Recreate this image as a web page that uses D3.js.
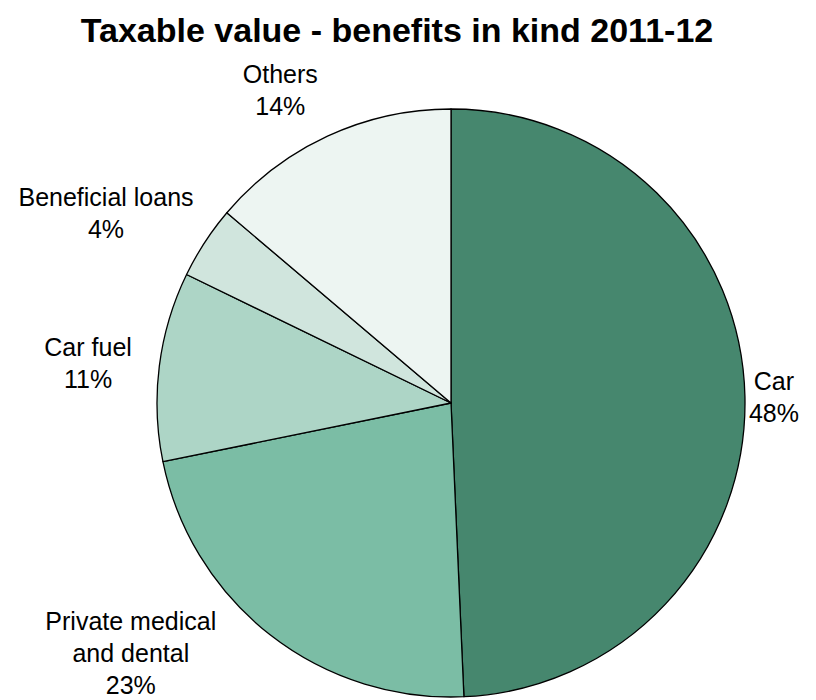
<!DOCTYPE html>
<html>
<head>
<meta charset="utf-8">
<script src="https://cdn.jsdelivr.net/npm/d3@7"></script>
<style>
  body { margin: 0; background: #fff; }
  svg { display: block; font-family: Arial, "Liberation Sans", sans-serif; }
</style>
</head>
<body>
<div id="chart"></div>
<script>
// slice data, clockwise from 12 o'clock
var categories = ["Car", "Private medical and dental", "Car fuel", "Beneficial loans", "Others"];
var shares = [49.3, 22.5, 10.4, 4.0, 13.8];
var shareLabels = ["48%", "23%", "11%", "4%", "14%"];
var labelLines = [["Car"], ["Private medical", "and dental"], ["Car fuel"], ["Beneficial loans"], ["Others"]];
var colours = ["#46876e", "#7bbda5", "#add5c6", "#d0e5dd", "#edf5f2"];

var width = 816, height = 700;
var cx = 451, cy = 403, radius = 294;

// label placement: angle nudge (deg) from slice middle and distance from pie centre
var labelLayout = [
    { shift: 0.4, dist: 323 },
    { shift: 13.9, dist: 407 },
    { shift: -1.1, dist: 365 },
    { shift: -4.5, dist: 393 },
    { shift: -3.9, dist: 355 }
];
var lineHeight = 32;

var svg = d3.select("#chart").append("svg")
    .attr("width", width)
    .attr("height", height);

svg.append("text")
    .attr("x", 397)
    .attr("y", 42)
    .attr("text-anchor", "middle")
    .attr("font-size", "34px")
    .attr("font-weight", "bold")
    .attr("fill", "#000")
    .text("Taxable value - benefits in kind 2011-12");

var pieData = categories.map(function(c, i) {
    return { name: c, value: shares[i], idx: i };
});

var pie = d3.pie()
    .sort(null)
    .value(function(d) { return d.value; });

var arc = d3.arc()
    .innerRadius(0)
    .outerRadius(radius);

var g = svg.append("g")
    .attr("transform", "translate(" + cx + "," + cy + ")");

var arcs = pie(pieData);

g.selectAll(".slice")
    .data(arcs)
    .enter().append("path")
    .attr("class", "slice")
    .attr("d", arc)
    .attr("fill", function(d) { return colours[d.data.idx]; })
    .attr("stroke", "#000")
    .attr("stroke-width", 1.3)
    .attr("stroke-linejoin", "round");

// labels
g.selectAll(".lbl")
    .data(arcs)
    .enter().append("text")
    .attr("class", "lbl")
    .attr("text-anchor", "middle")
    .attr("font-size", "25px")
    .attr("fill", "#000")
    .each(function(d) {
        var i = d.data.idx;
        var mid = (d.startAngle + d.endAngle) / 2 + labelLayout[i].shift * Math.PI / 180;
        var lx = Math.sin(mid) * labelLayout[i].dist;
        var ly = -Math.cos(mid) * labelLayout[i].dist;
        var lines = labelLines[i].concat([shareLabels[i]]);
        var firstBase = ly - (lines.length - 1) * lineHeight / 2 + 7.5;
        var t = d3.select(this);
        lines.forEach(function(s, k) {
            t.append("tspan")
                .attr("x", lx)
                .attr("y", firstBase + k * lineHeight)
                .text(s);
        });
    });
</script>
</body>
</html>
